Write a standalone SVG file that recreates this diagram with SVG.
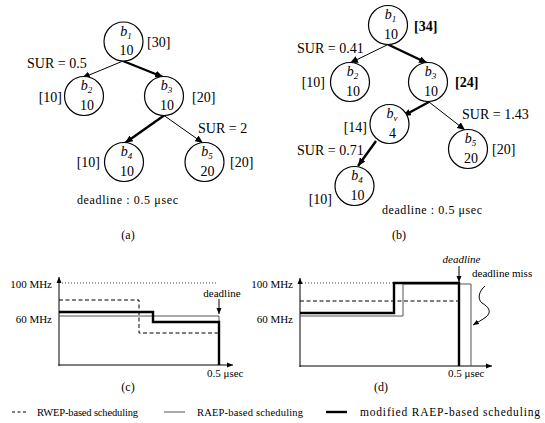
<svg xmlns="http://www.w3.org/2000/svg" width="545" height="423" viewBox="0 0 545 423">
<style>
text { font-family: "Liberation Serif", "Times New Roman", serif; fill: #000; }
.f14 { font-size: 14px; }
.f12 { font-size: 12px; }
.f11 { font-size: 11px; }
.f10 { font-size: 10.5px; }
.it { font-style: italic; }
.b { font-weight: bold; }
.node { fill: #fff; stroke: #000; stroke-width: 1.2; }
.thin { fill: none; stroke: #000; stroke-width: 1; }
.thick { fill: none; stroke: #000; stroke-width: 2.4; }
.gray { fill: none; stroke: #555; stroke-width: 1; }
.dash { fill: none; stroke: #000; stroke-width: 1; stroke-dasharray: 4 2.5; }
.dot { fill: none; stroke: #444; stroke-width: 1; stroke-dasharray: 1 2; }
.mid { text-anchor: middle; }
.end { text-anchor: end; }
</style>
<defs>
<marker id="ah" markerUnits="userSpaceOnUse" markerWidth="9" markerHeight="7" refX="8" refY="3.5" orient="auto">
<path d="M0,0 L8,3.5 L0,7 Z" fill="#000"/>
</marker>
<marker id="ahs" markerUnits="userSpaceOnUse" markerWidth="7" markerHeight="6" refX="6" refY="3" orient="auto">
<path d="M0,0.5 L6,3 L0,5.5 Z" fill="#000"/>
</marker>
</defs>

<!-- Tree (a) -->
<g id="connectors-a">
<line class="thin" x1="123" y1="61" x2="82" y2="78" marker-end="url(#ah)"/>
<line class="thick" x1="123" y1="61" x2="163" y2="77" marker-end="url(#ah)"/>
<line class="thick" x1="164" y1="115.5" x2="125" y2="143" marker-end="url(#ah)"/>
<line class="thin" x1="164" y1="115.5" x2="203" y2="143" marker-end="url(#ah)"/>
</g>
<g id="a-b1">
<circle class="node" cx="123.5" cy="41.5" r="19.5"/>
<text class="f14 mid" x="126" y="35.5"><tspan class="it">b</tspan><tspan class="it" font-size="9" dy="3">1</tspan></text>
<text class="f14 mid" x="126.5" y="55">10</text>
<text class="f14" x="147" y="47">[30]</text>
</g>
<g id="a-b2">
<circle class="node" cx="84" cy="96" r="19.5"/>
<text class="f14 mid" x="86.5" y="90"><tspan class="it">b</tspan><tspan class="it" font-size="9" dy="3">2</tspan></text>
<text class="f14 mid" x="87" y="109.5">10</text>
<text class="f14 end" x="62" y="102">[10]</text>
</g>
<g id="a-b3">
<circle class="node" cx="164" cy="96" r="19.5"/>
<text class="f14 mid" x="166.5" y="90"><tspan class="it">b</tspan><tspan class="it" font-size="9" dy="3">3</tspan></text>
<text class="f14 mid" x="167" y="109.5">10</text>
<text class="f14" x="192" y="102">[20]</text>
</g>
<g id="a-b4">
<circle class="node" cx="124" cy="162" r="19.5"/>
<text class="f14 mid" x="126.5" y="156"><tspan class="it">b</tspan><tspan class="it" font-size="9" dy="3">4</tspan></text>
<text class="f14 mid" x="127" y="175.5">10</text>
<text class="f14 end" x="100" y="167">[10]</text>
</g>
<g id="a-b5">
<circle class="node" cx="204.5" cy="162" r="19.5"/>
<text class="f14 mid" x="207" y="156"><tspan class="it">b</tspan><tspan class="it" font-size="9" dy="3">5</tspan></text>
<text class="f14 mid" x="207.5" y="175.5">20</text>
<text class="f14" x="230" y="167">[20]</text>
</g>
<text class="f14" x="27" y="68">SUR = 0.5</text>
<text class="f14" x="198" y="133">SUR = 2</text>
<text class="f12" x="77" y="204" textLength="101">deadline : 0.5 μsec</text>
<text class="f12 mid" x="128" y="239">(a)</text>

<!-- Tree (b) -->
<g id="connectors-b">
<line class="thin" x1="388" y1="44.5" x2="350" y2="63" marker-end="url(#ah)"/>
<line class="thick" x1="388" y1="44.5" x2="427" y2="63" marker-end="url(#ah)"/>
<line class="thick" x1="429" y1="102" x2="403" y2="116" marker-end="url(#ah)"/>
<line class="thin" x1="429" y1="102" x2="465" y2="130" marker-end="url(#ah)"/>
<line class="thick" x1="376" y1="141" x2="358" y2="166" marker-end="url(#ah)"/>
</g>
<g id="b-b1">
<circle class="node" cx="388" cy="25" r="19.5"/>
<text class="f14 mid" x="390.5" y="19"><tspan class="it">b</tspan><tspan class="it" font-size="9" dy="3">1</tspan></text>
<text class="f14 mid" x="391" y="38.5">10</text>
<text class="f14 b" x="414" y="31">[34]</text>
</g>
<g id="b-b2">
<circle class="node" cx="350" cy="82" r="19.5"/>
<text class="f14 mid" x="352.5" y="76"><tspan class="it">b</tspan><tspan class="it" font-size="9" dy="3">2</tspan></text>
<text class="f14 mid" x="353" y="95.5">10</text>
<text class="f14 end" x="325" y="87">[10]</text>
</g>
<g id="b-b3">
<circle class="node" cx="428" cy="82" r="19.5"/>
<text class="f14 mid" x="430.5" y="76"><tspan class="it">b</tspan><tspan class="it" font-size="9" dy="3">3</tspan></text>
<text class="f14 mid" x="431" y="95.5">10</text>
<text class="f14 b" x="455" y="87">[24]</text>
</g>
<g id="b-bv">
<circle class="node" cx="389.5" cy="124" r="19.5"/>
<text class="f14 mid" x="392" y="118"><tspan class="it">b</tspan><tspan class="it" font-size="9" dy="3">v</tspan></text>
<text class="f14 mid" x="392.5" y="137.5">4</text>
<text class="f14 end" x="367" y="132">[14]</text>
</g>
<g id="b-b5">
<circle class="node" cx="468" cy="149" r="19.5"/>
<text class="f14 mid" x="470.5" y="143"><tspan class="it">b</tspan><tspan class="it" font-size="9" dy="3">5</tspan></text>
<text class="f14 mid" x="471" y="162.5">20</text>
<text class="f14" x="492" y="154">[20]</text>
</g>
<g id="b-b4">
<circle class="node" cx="354.5" cy="186" r="19.5"/>
<text class="f14 mid" x="357" y="180"><tspan class="it">b</tspan><tspan class="it" font-size="9" dy="3">4</tspan></text>
<text class="f14 mid" x="357.5" y="199.5">10</text>
<text class="f14 end" x="332" y="204">[10]</text>
</g>
<text class="f14" x="297" y="53">SUR = 0.41</text>
<text class="f14" x="462" y="119">SUR = 1.43</text>
<text class="f14" x="297" y="155">SUR = 0.71</text>
<text class="f12" x="382" y="214" textLength="100">deadline : 0.5 μsec</text>
<text class="f12 mid" x="399" y="239">(b)</text>

<!-- Chart (c) -->
<g id="chart-c">
<line class="thin" x1="59" y1="366" x2="59" y2="277" marker-end="url(#ahs)"/>
<line class="thin" x1="58.5" y1="365" x2="233" y2="365" marker-end="url(#ahs)"/>
<line class="dot" x1="62" y1="283" x2="218" y2="283"/>
<path class="dash" d="M59,300 H139 V333 H219"/>
<path class="gray" d="M59,316 H219 V365"/>
<path class="thick" d="M59,312 H153 V322 H219 V365"/>
<line class="thin" x1="219" y1="299" x2="219" y2="314" marker-end="url(#ahs)"/>
<text class="f11 end" x="52" y="288">100 MHz</text>
<text class="f11 end" x="52" y="323">60 MHz</text>
<text class="f11 mid" x="222" y="297">deadline</text>
<text class="f11" x="207" y="377">0.5 μsec</text>
</g>
<text class="f12 mid" x="128" y="391">(c)</text>

<!-- Chart (d) -->
<g id="chart-d">
<line class="thin" x1="300" y1="367" x2="300" y2="278" marker-end="url(#ahs)"/>
<line class="thin" x1="299.5" y1="366" x2="492" y2="366" marker-end="url(#ahs)"/>
<line class="dot" x1="302" y1="283" x2="394" y2="283"/>
<path class="dash" d="M300,301 H459"/>
<path class="gray" d="M300,316 H403 V284 H471 V366"/>
<path class="thick" d="M300,313 H394 V283 H459 V366"/>
<line class="thin" x1="459" y1="266" x2="459" y2="282" marker-end="url(#ahs)"/>
<path class="thin" d="M485,286 C479,291 477,299 482,303 C489,307 492,312 486,317 C482,320 478,322 473,325" marker-end="url(#ahs)"/>
<text class="f11 end" x="293" y="288">100 MHz</text>
<text class="f11 end" x="293" y="323">60 MHz</text>
<text class="f11 it mid" x="461.5" y="263">deadline</text>
<text class="f11" x="472" y="277">deadline miss</text>
<text class="f11" x="448" y="377">0.5 μsec</text>
</g>
<text class="f12 mid" x="381" y="391">(d)</text>

<!-- Legend -->
<g id="legend">
<line class="dash" x1="12" y1="412" x2="28" y2="412" style="stroke-dasharray:3 2.5"/>
<text class="f10" x="37" y="416" textLength="101">RWEP-based scheduling</text>
<line class="gray" x1="164" y1="412" x2="185" y2="412"/>
<text class="f10" x="197" y="416" textLength="106">RAEP-based scheduling</text>
<line class="thick" x1="326" y1="412" x2="347" y2="412"/>
<text class="f10" x="360" y="416" font-size="11.5" style="font-size:11.5px" textLength="180">modified RAEP-based scheduling</text>
</g>
</svg>
